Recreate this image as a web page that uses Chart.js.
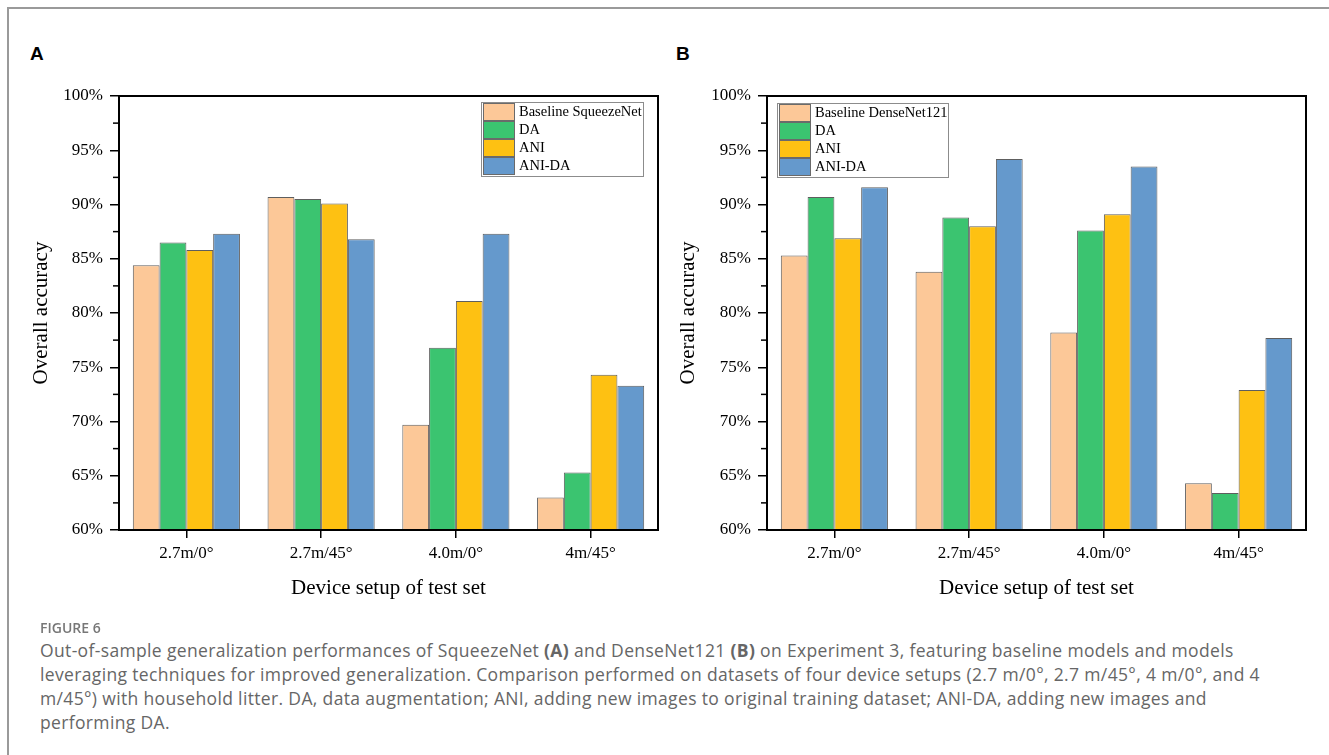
<!DOCTYPE html>
<html>
<head>
<meta charset="utf-8">
<script src="https://cdn.jsdelivr.net/npm/chart.js@4.4.1/dist/chart.umd.min.js"></script>
<style>
  body { margin: 0; background: #fff; width: 1329px; height: 755px; overflow: hidden; position: relative; font-family: "Open Sans", "Noto Sans", sans-serif; }
  #frame { position: absolute; left: 7px; top: 7px; width: 1340px; height: 800px; border-left: 2px solid #9a9a9a; border-top: 2px solid #9a9a9a; }
  .panel { position: absolute; top: 0; }
  .letter { position: absolute; top: 44px; font: bold 19px "Liberation Sans", Arial, sans-serif; line-height: 1; }
  #figlabel { position: absolute; left: 40px; top: 621px; font-size: 14px; font-weight: 600; color: #777; line-height: 1; }
  .cap { position: absolute; left: 40px; font-size: 17.5px; letter-spacing: 0.35px; color: #666; white-space: nowrap; line-height: 25px; }
</style>
</head>
<body>
<div id="frame"></div>
<div class="letter" style="left:30px">A</div>
<div class="letter" style="left:676px">B</div>
<canvas id="chartA" class="panel" style="left:0px" width="670" height="620"></canvas>
<canvas id="chartB" class="panel" style="left:660px" width="669" height="620"></canvas>
<div id="figlabel">FIGURE 6</div>
<div class="cap" style="top:638px">Out-of-sample generalization performances of SqueezeNet <b>(A)</b> and DenseNet121 <b>(B)</b> on Experiment 3, featuring baseline models and models</div>
<div class="cap" style="top:662px">leveraging techniques for improved generalization. Comparison performed on datasets of four device setups (2.7 m/0°, 2.7 m/45°, 4 m/0°, and 4</div>
<div class="cap" style="top:686px">m/45°) with household litter. DA, data augmentation; ANI, adding new images to original training dataset; ANI-DA, adding new images and</div>
<div class="cap" style="top:710px">performing DA.</div>
<script>
// categories and tick labels
const categories = ["2.7m/0°", "2.7m/45°", "4.0m/0°", "4m/45°"];
const yTicks = [60, 65, 70, 75, 80, 85, 90, 95, 100];

// SqueezeNet (A)
const squeezeBaseline = [84.4, 90.7, 69.7, 63.0];
const squeezeDA = [86.5, 90.5, 76.8, 65.3];
const squeezeANI = [85.8, 90.1, 81.1, 74.3];
const squeezeANIDA = [87.3, 86.8, 87.3, 73.3];

// DenseNet121 (B)
const denseBaseline = [85.3, 83.8, 78.2, 64.3];
const denseDA = [90.7, 88.8, 87.6, 63.4];
const denseANI = [86.9, 88.0, 89.1, 72.9];
const denseANIDA = [91.6, 94.2, 93.5, 77.7];

const colors = ["#fcc898", "#3bc470", "#fec112", "#6599cc"];
const serif = '"Liberation Serif", "Times New Roman", serif';

Chart.defaults.color = "#000";
Chart.defaults.font.family = serif;

// frame round the plot + short minor ticks on y
const framePlugin = {
  id: "framePlugin",
  afterDraw(chart) {
    const { ctx, chartArea, scales } = chart;
    const y = scales.y;
    ctx.save();
    ctx.strokeStyle = "#000";
    ctx.lineWidth = 1.5;
    y.ticks.forEach(t => {
      if (t.value % 5 !== 0) {
        const py = y.getPixelForValue(t.value);
        ctx.beginPath();
        ctx.moveTo(chartArea.left - 6, py);
        ctx.lineTo(chartArea.left, py);
        ctx.stroke();
      }
    });
    ctx.lineWidth = 2;
    ctx.strokeRect(chartArea.left, chartArea.top, chartArea.right - chartArea.left, chartArea.bottom - chartArea.top);
    ctx.restore();
  }
};

// legend drawn inside the plot area
const boxLegend = {
  id: "boxLegend",
  afterDraw(chart, args, opts) {
    const { ctx, chartArea } = chart;
    const x = opts.anchor === "right" ? chartArea.right - opts.dx - opts.width : chartArea.left + opts.dx;
    const y = chartArea.top + opts.dy;
    ctx.save();
    ctx.fillStyle = "#fff";
    ctx.fillRect(x, y, opts.width, opts.height);
    ctx.strokeStyle = "#8c8c8c";
    ctx.lineWidth = 1;
    ctx.strokeRect(x + 0.5, y + 0.5, opts.width, opts.height);
    ctx.font = "14.5px " + serif;
    ctx.textBaseline = "middle";
    chart.data.datasets.forEach((ds, i) => {
      const cy = y + 9.5 + i * 18;
      ctx.fillStyle = ds.backgroundColor;
      ctx.fillRect(x + 2, cy - 8.5, 31, 17);
      ctx.strokeStyle = "#6a6a6a";
      ctx.strokeRect(x + 2.5, cy - 8, 31, 17);
      ctx.fillStyle = "#000";
      ctx.fillText(ds.label, x + 38, cy + 1);
    });
    ctx.restore();
  }
};

function makeChart(id, baselineName, series, cfg) {
  const names = [baselineName, "DA", "ANI", "ANI-DA"];
  return new Chart(document.getElementById(id), {
    type: "bar",
    data: {
      labels: categories,
      datasets: series.map((s, i) => ({
        label: names[i],
        data: s,
        backgroundColor: colors[i],
        borderColor: "#5e5e5e",
        borderWidth: 1,
        categoryPercentage: 0.795,
        barPercentage: 1
      }))
    },
    options: {
      responsive: false,
      animation: false,
      layout: { padding: { top: 96, right: cfg.right, left: 0, bottom: 0 } },
      plugins: {
        legend: { display: false },
        tooltip: { enabled: false },
        boxLegend: cfg.legend
      },
      scales: {
        x: {
          afterFit: s => { s.height = 90; },
          grid: { drawOnChartArea: false, offset: false, tickLength: 8, tickColor: "#000", lineWidth: 1.5 },
          border: { color: "#000", width: 2 },
          ticks: { font: { size: 17 }, padding: 5 },
          title: { display: true, text: "Device setup of test set", font: { size: 21 }, padding: { top: 0, bottom: 19 } }
        },
        y: {
          min: 60,
          max: 100,
          afterFit: s => { s.width = cfg.yWidth; },
          grid: {
            drawOnChartArea: false,
            tickLength: 9,
            lineWidth: 1.5,
            tickColor: c => (c.tick && c.tick.value % 5 === 0 ? "#000" : "rgba(0,0,0,0)")
          },
          border: { color: "#000", width: 2 },
          ticks: {
            stepSize: 2.5,
            autoSkip: false,
            padding: 7,
            font: { size: 17 },
            callback: v => (yTicks.includes(v) ? v + "%" : "")
          },
          title: { display: true, text: "Overall accuracy", font: { size: 21 }, padding: { top: cfg.titlePad, bottom: 0 } }
        }
      }
    },
    plugins: [framePlugin, boxLegend]
  });
}

makeChart("chartA", "Baseline SqueezeNet", [squeezeBaseline, squeezeDA, squeezeANI, squeezeANIDA], {
  right: 12, yWidth: 119, titlePad: 29,
  legend: { anchor: "right", dx: 15, dy: 6, width: 162, height: 74 }
});
makeChart("chartB", "Baseline DenseNet121", [denseBaseline, denseDA, denseANI, denseANIDA], {
  right: 23, yWidth: 107, titlePad: 16,
  legend: { anchor: "left", dx: 10, dy: 7, width: 171, height: 74 }
});
</script>
</body>
</html>
